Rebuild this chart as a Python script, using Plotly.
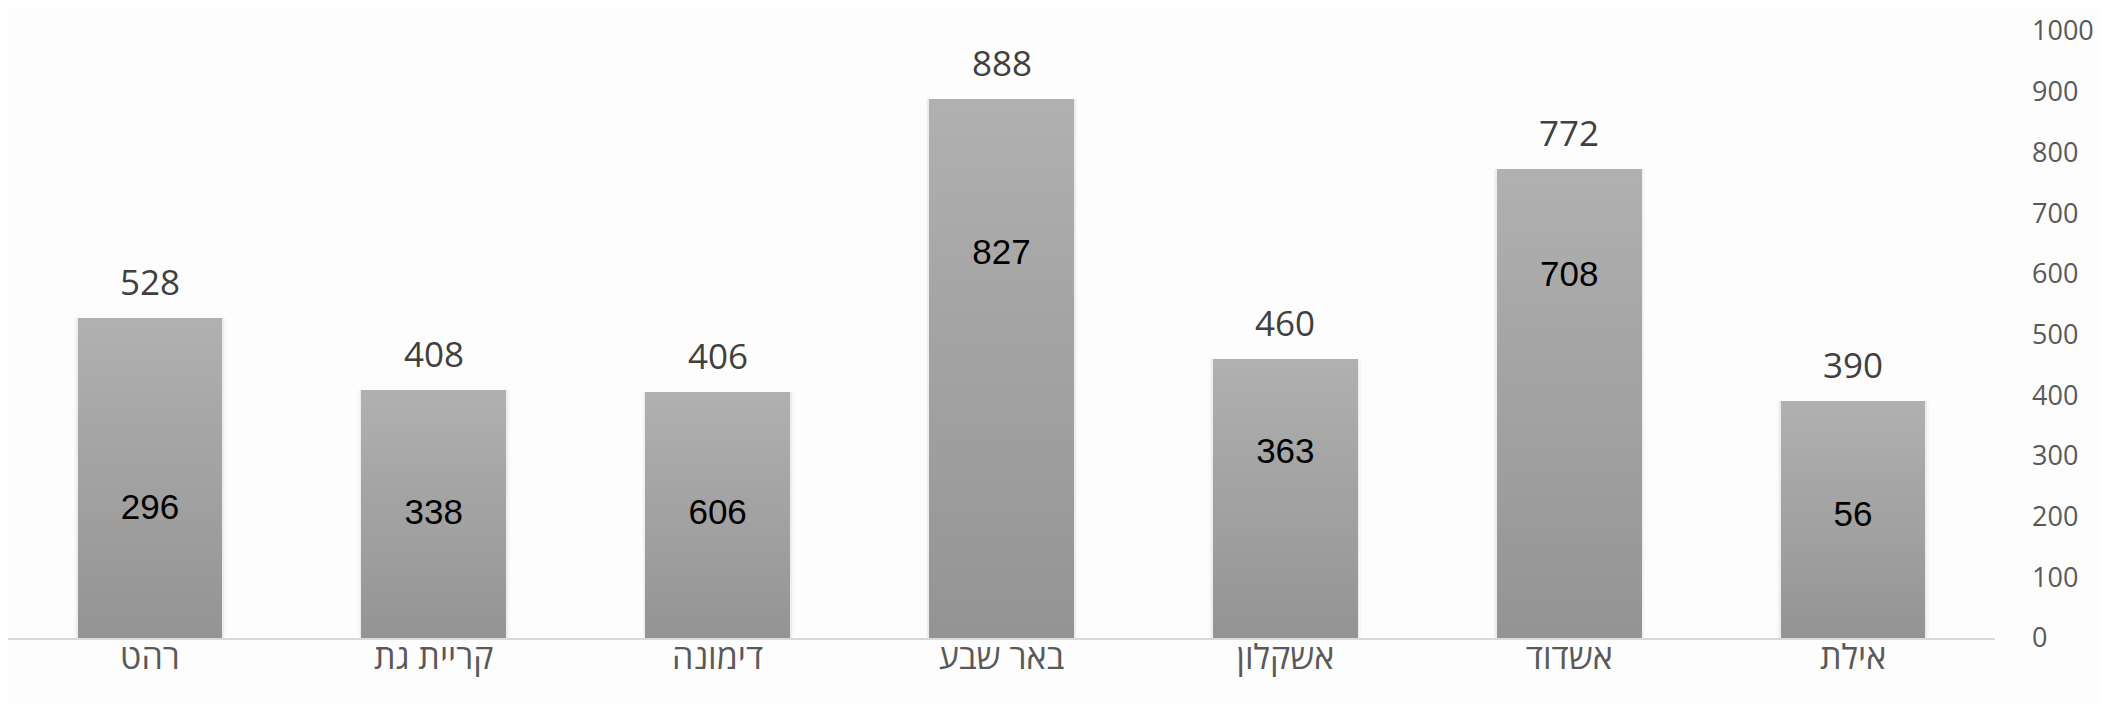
import plotly.graph_objects as go

# ---- data ----
categories = ["אילת", "אשדוד", "אשקלון", "באר שבע", "דימונה", "קריית גת", "רהט"]
totals = [390, 772, 460, 888, 406, 408, 528]
inner_values = [56, 708, 363, 827, 606, 338, 296]
inner_label_pos = [199, 594, 302, 631, 202, 202, 210]  # where the inner labels sit (data units)
y_ticks = [0, 100, 200, 300, 400, 500, 600, 700, 800, 900, 1000]

# ---- style ----
BAR_W = 0.51
TOP_RGB = (176, 176, 176)
BOT_RGB = (148, 148, 148)
STEPS = 30

fig = go.Figure()

# soft shadow beside bars
for w, a in [(0.535, 0.025), (0.522, 0.04)]:
    fig.add_trace(go.Bar(x=categories, y=totals, width=w,
                         marker=dict(color=f"rgba(0,0,0,{a})", line=dict(width=0)),
                         hoverinfo="skip", showlegend=False))

# gradient bars: overlay of successively shorter, darker bars
for i in range(STEPS):
    f = 1 - i / STEPS
    t = i / (STEPS - 1)
    c = tuple(round(TOP_RGB[k] + (BOT_RGB[k] - TOP_RGB[k]) * t) for k in range(3))
    fig.add_trace(go.Bar(x=categories, y=[v * f for v in totals], width=BAR_W,
                         marker=dict(color=f"rgb{c}", line=dict(width=0)),
                         hoverinfo="skip", showlegend=False))

# inner labels
fig.add_trace(go.Scatter(x=categories, y=inner_label_pos, mode="text",
                         text=[str(v) for v in inner_values],
                         textfont=dict(family="Liberation Sans, Arial", size=35, color="#000000"),
                         hoverinfo="skip", showlegend=False))

# value labels above bars
for c, v in zip(categories, totals):
    fig.add_annotation(x=c, y=v, text=str(v), showarrow=False, yanchor="bottom",
                       yshift=11, font=dict(family="Open Sans, DejaVu Sans", size=35, color="#404040"))

fig.update_layout(
    width=2108, height=704,
    margin=dict(l=0, r=121, t=23, b=74),
    paper_bgcolor="#fdfdfd", plot_bgcolor="#fdfdfd",
    barmode="overlay", bargap=0,
    showlegend=False,
    xaxis=dict(autorange="reversed", showgrid=False, zeroline=False, automargin=False,
               showline=True, linecolor="#d9d9d9", linewidth=2,
               ticks="", ticklabelstandoff=-12,
               tickfont=dict(family="Open Sans, DejaVu Sans", size=34, color="#595959")),
    yaxis=dict(side="right", range=[0, 1000], tickvals=y_ticks, showgrid=False,
               zeroline=False, showline=False, ticks="", automargin=False,
               ticklabelstandoff=36,
               tickfont=dict(family="Open Sans, DejaVu Sans", size=27, color="#595959")),
)

fig.write_html("out.html")
